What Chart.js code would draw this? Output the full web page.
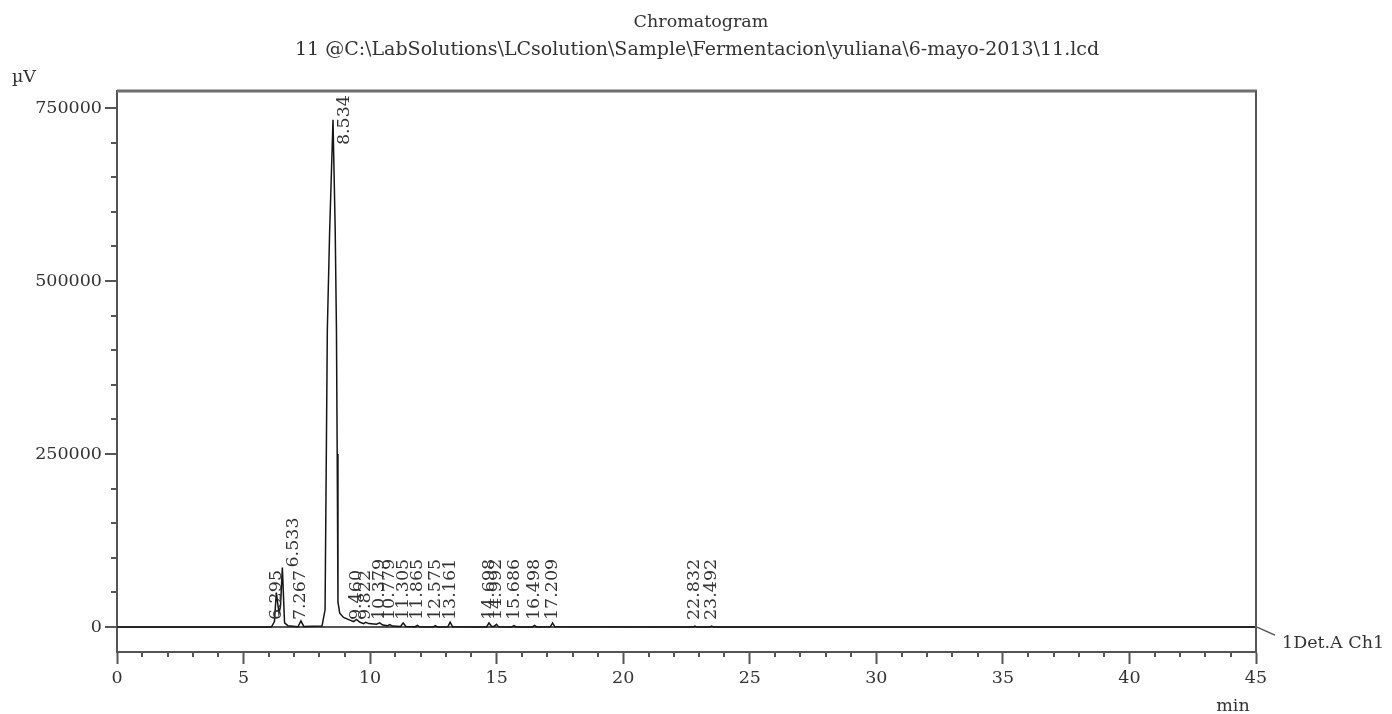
<!DOCTYPE html>
<html>
<head>
<meta charset="utf-8">
<script src="https://cdn.jsdelivr.net/npm/chart.js@4.4.1/dist/chart.umd.min.js"></script>
<style>
  html, body { margin: 0; padding: 0; background: #ffffff; }
  #wrap { width: 1392px; height: 714px; position: relative; }
</style>
</head>
<body>
<div id="wrap"><canvas id="chrom" width="1392" height="714"></canvas></div>
<script>
// ---- texts ----
const titleText = 'Chromatogram';
const subtitleText = '11 @C:\\LabSolutions\\LCsolution\\Sample\\Fermentacion\\yuliana\\6-mayo-2013\\11.lcd';
const yUnitText = 'µV';
const xUnitText = 'min';
const detectorText = '1Det.A Ch1';

// ---- axis ticks ----
const xTicks = [0, 5, 10, 15, 20, 25, 30, 35, 40, 45];
const yTicks = [0, 250000, 500000, 750000];

// ---- integrated peaks: retention time (min) and apex height (µV) ----
const peakTimes   = [6.295, 6.533, 7.267, 8.534, 9.460, 9.822, 10.379, 10.779, 11.305, 11.865,
                     12.575, 13.161, 14.698, 14.992, 15.686, 16.498, 17.209, 22.832, 23.492];
const peakHeights = [50000, 86000, 9000, 733000, 11000, 7000, 6000, 3500, 6000, 2500,
                     2000, 7000, 6000, 4000, 2000, 2500, 6000, 1500, 1500];

// ---- signal between the apexes (peak flanks, tails and baseline) ----
const shapeTimes  = [0, 6.10, 6.22, 6.40, 6.46, 6.62, 6.75, 7.15, 7.38, 8.10,
                     8.22, 8.27, 8.31, 8.40, 8.62, 8.67, 8.70, 8.73, 8.80, 8.95,
                     9.20, 9.35, 9.60, 9.75, 9.95, 10.25, 10.50, 10.70, 10.88, 11.20,
                     11.42, 11.78, 11.95, 12.50, 12.66, 13.07, 13.26, 14.60, 14.80, 14.90,
                     15.08, 15.60, 15.77, 16.42, 16.58, 17.12, 17.30, 22.76, 22.91, 23.42,
                     23.57, 45];
const shapeValues = [0, 0, 8000, 20000, 30000, 6000, 2000, 500, 1000, 1500,
                     25000, 250000, 430000, 570000, 575000, 430000, 250000, 36000, 20000, 14000,
                     10000, 8000, 7000, 5000, 5000, 4000, 3000, 2000, 1500, 1000,
                     1000, 500, 300, 200, 200, 300, 300, 200, 1000, 1000,
                     300, 200, 200, 200, 200, 300, 300, 0, 0, 0,
                     0, 0];

// merge apexes and flanks into one time-ordered trace
const trace = shapeTimes.map((t, i) => ({ x: t, y: shapeValues[i] }))
  .concat(peakTimes.map((t, i) => ({ x: t, y: peakHeights[i] })))
  .sort((a, b) => a.x - b.x);

const FONT = '"DejaVu Serif", "Liberation Serif", serif';
const TEXT_COLOR = '#333333';
const AXIS_COLOR = '#555555';

// frame, minor ticks, baseline leader and all free text
const chromDecor = {
  id: 'chromDecor',
  afterDraw(chart) {
    const { ctx, chartArea: a, scales: { x, y } } = chart;
    ctx.save();

    // top and right frame
    ctx.strokeStyle = '#6e6e6e';
    ctx.lineWidth = 3;
    ctx.beginPath(); ctx.moveTo(a.left, a.top); ctx.lineTo(a.right + 1, a.top); ctx.stroke();
    ctx.strokeStyle = AXIS_COLOR;
    ctx.lineWidth = 2;
    ctx.beginPath(); ctx.moveTo(a.right, a.top); ctx.lineTo(a.right, a.bottom); ctx.stroke();

    // minor ticks: every minute on x, every 50000 on y
    ctx.lineWidth = 2;
    for (let m = x.min; m <= x.max; m += 1) {
      if (m % 5 === 0) continue;
      const px = Math.round(x.getPixelForValue(m));
      ctx.beginPath(); ctx.moveTo(px, a.bottom); ctx.lineTo(px, a.bottom + 5); ctx.stroke();
    }
    for (let v = 50000; v < y.max; v += 50000) {
      if (v % 250000 === 0) continue;
      const py = Math.round(y.getPixelForValue(v));
      ctx.beginPath(); ctx.moveTo(a.left - 6, py); ctx.lineTo(a.left, py); ctx.stroke();
    }

    // baseline leader to the detector label
    const y0 = y.getPixelForValue(0);
    ctx.lineWidth = 1.5;
    ctx.beginPath(); ctx.moveTo(a.right + 1, y0); ctx.lineTo(a.right + 19, y0 + 8); ctx.stroke();

    ctx.fillStyle = TEXT_COLOR;
    ctx.textBaseline = 'middle';

    ctx.font = '17.5px ' + FONT;
    ctx.textAlign = 'left';
    ctx.fillText(detectorText, a.right + 26, y0 + 16);

    ctx.textAlign = 'center';
    ctx.fillText(titleText, 701, 22);
    ctx.font = '19px ' + FONT;
    ctx.fillText(subtitleText, 697, 50);

    ctx.font = '17.5px ' + FONT;
    ctx.textAlign = 'left';
    ctx.fillText(yUnitText, 12, 77);
    ctx.textAlign = 'center';
    ctx.fillText(xUnitText, 1233, 706);

    // peak retention-time labels, read bottom to top
    const bandY = y0 - 7;
    ctx.textAlign = 'left';
    peakTimes.forEach((t, i) => {
      const txt = t.toFixed(3);
      const w = ctx.measureText(txt).width;
      const px = x.getPixelForValue(t);
      const apexY = y.getPixelForValue(peakHeights[i]);
      let cx = px, bottom = bandY;
      if (apexY < bandY - 40) {
        cx = px + 11;
        bottom = apexY;
        if (bottom - w < a.top + 4) bottom = a.top + 4 + w;
      }
      ctx.save();
      ctx.translate(cx, bottom);
      ctx.rotate(-Math.PI / 2);
      ctx.fillText(txt, 0, 0);
      ctx.restore();
    });

    ctx.restore();
  }
};

new Chart(document.getElementById('chrom'), {
  type: 'line',
  data: {
    datasets: [{
      data: trace,
      borderColor: '#151515',
      borderWidth: 1.5,
      pointRadius: 0,
      tension: 0,
      fill: false
    }]
  },
  options: {
    responsive: false,
    animation: false,
    layout: { padding: { left: 0, top: 91, right: 136, bottom: 0 } },
    plugins: {
      legend: { display: false },
      tooltip: { enabled: false },
      title: { display: false }
    },
    scales: {
      x: {
        type: 'linear',
        min: 0,
        max: 45,
        afterBuildTicks: s => { s.ticks = xTicks.map(v => ({ value: v })); },
        afterFit: s => { s.height = 62; },
        grid: { drawOnChartArea: false, drawTicks: true, tickLength: 12, tickColor: AXIS_COLOR, tickWidth: 2 },
        border: { display: true, color: AXIS_COLOR, width: 2 },
        ticks: {
          font: { family: FONT, size: 17.5 },
          color: TEXT_COLOR,
          padding: 4,
          maxRotation: 0,
          autoSkip: false,
          callback: v => String(v)
        }
      },
      y: {
        type: 'linear',
        min: -36000,
        max: 774500,
        afterBuildTicks: s => { s.ticks = yTicks.map(v => ({ value: v })); },
        afterFit: s => { s.width = 117; },
        grid: {
          drawOnChartArea: true,
          color: c => (c.tick && c.tick.value === 0) ? AXIS_COLOR : 'rgba(0,0,0,0)',
          lineWidth: 2,
          drawTicks: true,
          tickLength: 12,
          tickColor: AXIS_COLOR,
          tickWidth: 2
        },
        border: { display: true, color: AXIS_COLOR, width: 2 },
        ticks: {
          font: { family: FONT, size: 17.5 },
          color: TEXT_COLOR,
          padding: 3,
          autoSkip: false,
          callback: v => String(v)
        }
      }
    }
  },
  plugins: [chromDecor]
});
</script>
</body>
</html>
